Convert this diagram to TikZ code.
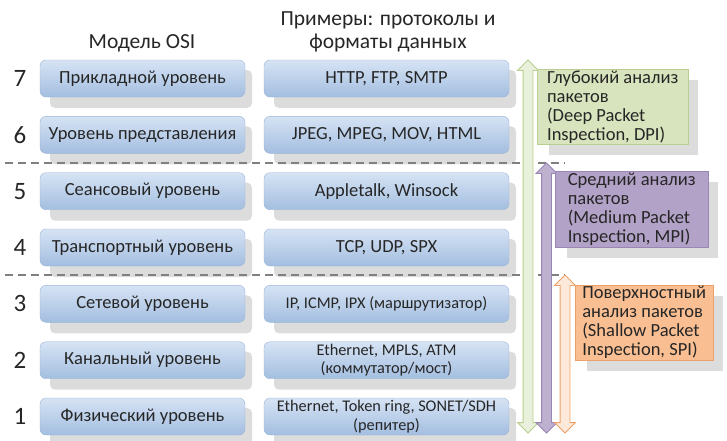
\documentclass[tikz,border=0pt]{standalone}
\usepackage{fontspec}
\setmainfont{Carlito}
\usepackage{xcolor}
\usetikzlibrary{shapes.arrows}

\definecolor{txt}{HTML}{262626}
\definecolor{boxtop}{HTML}{D6E3F4}
\definecolor{boxbot}{HTML}{A3BEE0}
\definecolor{boxline}{HTML}{9BB5D8}
\definecolor{shadowgrey}{HTML}{DCDCDC}
\definecolor{dpifill}{HTML}{D7E4BD}
\definecolor{dpiline}{HTML}{B9CD8E}
\definecolor{mpifill}{HTML}{B3A2C7}
\definecolor{mpiline}{HTML}{9A86B5}
\definecolor{spifill}{HTML}{F9BF92}
\definecolor{spiline}{HTML}{EDA16A}

\tikzset{
  layerbox/.style={rounded corners=6pt, draw=boxline, top color=boxtop, bottom color=boxbot,
    minimum height=37pt, inner ysep=1pt, text=txt, font=\fontsize{18.5}{19}\selectfont},
  osibox/.style={layerbox, minimum width=205pt},
  protbox/.style={layerbox, minimum width=245pt, align=center},
  protsmall/.style={font=\fontsize{16.3}{18.5}\selectfont},
  layernum/.style={text=txt, font=\fontsize{25}{26}\selectfont},
  colhead/.style={text=txt, font=\fontsize{21.5}{23}\selectfont, align=center},
  boundary/.style={gray, line width=1.2pt, dash pattern=on 8pt off 5pt},
  spanarrow/.style={double arrow, shape border rotate=90, inner sep=4.5pt, minimum width=0pt,
    double arrow head extend=5.5pt, line width=0.8pt},
  notebox/.style={text=txt, font=\fontsize{18.5}{19}\selectfont, align=left, anchor=north west,
    inner xsep=3pt, inner ysep=1pt},
  boxshadow/.style={fill=shadowgrey, draw=none, rounded corners=5pt}
}

\begin{document}
\begin{tikzpicture}[x=1pt, y=-1pt]
  \useasboundingbox (0,0) rectangle (727,440);

  % shadows first, so the boxes cover them
  \foreach \yc in {78.5,134.8,191.2,247.5,303.8,360.2,416.5} {
    \fill[boxshadow] (50,\yc-8.5) rectangle (252,\yc+29.5);
    \fill[boxshadow] (274,\yc-8.5) rectangle (516,\yc+29.5);
  }
  \fill[boxshadow, rounded corners=0pt] (549,80) rectangle (698,155);
  \fill[boxshadow, rounded corners=0pt] (567,182) rectangle (718,258);
  \fill[boxshadow, rounded corners=0pt] (587,296) rectangle (723,371);

  % column headings
  \node[colhead] (hosi) at (142,43) {Модель OSI};
  \node[colhead] (hprot) at (388,32) {Примеры: протоколы и\\форматы данных};

  % boundaries between analysis depths
  \coordinate (s1w) at (5,163);
  \coordinate (s1e) at (565,163);
  \coordinate (s2w) at (5,275);
  \coordinate (s2e) at (565,275);
  \draw[boundary] (s1w) -- (s1e);
  \draw[boundary] (s2w) -- (s2e);

  % OSI layers
  \node[layernum] (n7) at (20,78.5) {7};
  \node[layernum] (n6) at (20,134.8) {6};
  \node[layernum] (n5) at (20,191.2) {5};
  \node[layernum] (n4) at (20,247.5) {4};
  \node[layernum] (n3) at (20,303.8) {3};
  \node[layernum] (n2) at (20,360.2) {2};
  \node[layernum] (n1) at (20,416.5) {1};

  \node[osibox] (l7) at (142.5,78.5) {Прикладной уровень};
  \node[osibox] (l6) at (142.5,134.8) {Уровень представления};
  \node[osibox] (l5) at (142.5,191.2) {Сеансовый уровень};
  \node[osibox] (l4) at (142.5,247.5) {Транспортный уровень};
  \node[osibox] (l3) at (142.5,303.8) {Сетевой уровень};
  \node[osibox] (l2) at (142.5,360.2) {Канальный уровень};
  \node[osibox] (l1) at (142.5,416.5) {Физический уровень};

  % protocols
  \node[protbox] (p7) at (386.5,78.5) {HTTP, FTP, SMTP};
  \node[protbox] (p6) at (386.5,134.8) {JPEG, MPEG, MOV, HTML};
  \node[protbox] (p5) at (386.5,191.2) {Appletalk, Winsock};
  \node[protbox] (p4) at (386.5,247.5) {TCP, UDP, SPX};
  \node[protbox, protsmall] (p3) at (386.5,303.8) {IP, ICMP, IPX (маршрутизатор)};
  \node[protbox, protsmall] (p2) at (386.5,360.2) {Ethernet, MPLS, ATM\\(коммутатор/мост)};
  \node[protbox, protsmall] (p1) at (386.5,416.5) {Ethernet, Token ring, SONET/SDH\\(репитер)};

  % ranges of inspection
  \node[spanarrow, fill=dpifill!55, draw=dpiline, minimum height=373pt] (adpi) at (528,246.5) {};
  \node[spanarrow, fill=mpifill!85, draw=mpiline, minimum height=270pt] (ampi) at (546.5,298) {};
  \node[spanarrow, fill=spifill!35, draw=spiline, minimum height=158pt] (aspi) at (565,354) {};

  \node[notebox, fill=dpifill, draw=dpiline, minimum width=151pt, minimum height=75pt] (dpi) at (537,69)
    {Глубокий анализ\\пакетов\\(Deep Packet\\Inspection, DPI)};
  \node[notebox, fill=mpifill, draw=mpiline, minimum width=153pt, minimum height=76pt] (mpi) at (555,171)
    {Средний анализ\\пакетов\\(Medium Packet\\Inspection, MPI)};
  \node[notebox, fill=spifill, draw=spiline, minimum width=138pt, minimum height=75pt] (spi) at (575,285)
    {Поверхностный\\анализ пакетов\\(Shallow Packet\\Inspection, SPI)};
\end{tikzpicture}
\end{document}
